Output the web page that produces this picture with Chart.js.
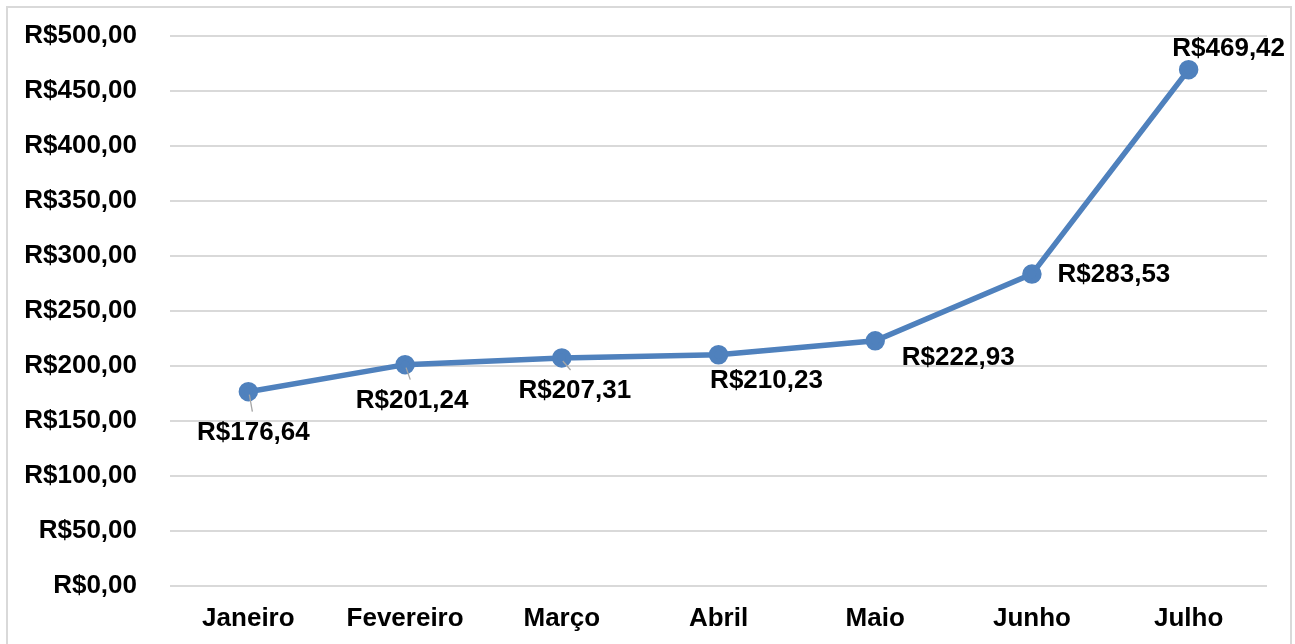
<!DOCTYPE html>
<html>
<head>
<meta charset="utf-8">
<script src="https://cdn.jsdelivr.net/npm/chart.js@4"></script>
<style>
  html, body { margin: 0; padding: 0; background: #fff; overflow: hidden; }
  #frame { position: absolute; left: 6px; top: 6px; width: 1286px; height: 700px; border: 2px solid #d9d9d9; box-sizing: border-box; }
  #wrap { position: absolute; left: 0; top: 0; width: 1295px; height: 644px; }
</style>
</head>
<body>
<div id="frame"></div>
<div id="wrap"><canvas id="gastosChart" width="1295" height="644"></canvas></div>
<script>
// Meses e valores (R$)
const months = ['Janeiro', 'Fevereiro', 'Março', 'Abril', 'Maio', 'Junho', 'Julho'];
const values = [176.64, 201.24, 207.31, 210.23, 222.93, 283.53, 469.42];
const yTicks = [0, 50, 100, 150, 200, 250, 300, 350, 400, 450, 500];

const FONT = '"Liberation Sans", Arial, sans-serif';

function brl(v) {
    return 'R$' + v.toFixed(2).replace('.', ',');
}

// Data labels placed like the Excel original (offset from each point)
const labelOffsets = [[5, 41], [7, 36], [13, 33], [48, 26], [83, 17], [82, 1], [40, -21]];
const leaders = [true, true, true, false, false, false, false];

const dataLabels = {
    id: 'dataLabels',
    afterDatasetsDraw(chart) {
        const ctx = chart.ctx;
        const meta = chart.getDatasetMeta(0);
        ctx.save();
        meta.data.forEach((pt, i) => {
            const [dx, dy] = labelOffsets[i];
            if (leaders[i]) {
                ctx.strokeStyle = '#a6a6a6';
                ctx.lineWidth = 1.3;
                ctx.beginPath();
                ctx.moveTo(pt.x + 1, pt.y + 3);
                ctx.lineTo(pt.x + dx * 0.6 + 1, pt.y + dy - 21);
                ctx.stroke();
            }
            ctx.fillStyle = '#000';
            ctx.font = 'bold 26px ' + FONT;
            ctx.textAlign = 'center';
            ctx.textBaseline = 'middle';
            ctx.fillText(brl(values[i]), pt.x + dx, pt.y + dy);
        });
        ctx.restore();
    }
};

new Chart(document.getElementById('gastosChart'), {
    type: 'line',
    data: {
        labels: months,
        datasets: [{
            data: values,
            borderColor: '#4f81bd',
            backgroundColor: '#4f81bd',
            borderWidth: 5.5,
            pointRadius: 7,
            pointHoverRadius: 7,
            pointBackgroundColor: '#4f81bd',
            pointBorderColor: '#4f81bd',
            tension: 0,
        }],
    },
    options: {
        responsive: false,
        animation: false,
        layout: { padding: { top: 36, right: 28, left: 0, bottom: 0 } },
        plugins: { legend: { display: false }, tooltip: { enabled: false } },
        scales: {
            x: {
                offset: true,
                grid: { display: false, drawTicks: false },
                border: { display: false },
                ticks: { color: '#000', padding: 17, font: { family: FONT, size: 26, weight: 'bold' } },
                afterFit(scale) { scale.height = 58; scale.paddingLeft = 0; scale.paddingRight = 0; },
            },
            y: {
                min: 0,
                max: 500,
                afterBuildTicks(scale) { scale.ticks = yTicks.map(v => ({ value: v })); },
                grid: { color: '#d9d9d9', lineWidth: 2, drawTicks: false },
                border: { display: false },
                ticks: {
                    color: '#000',
                    padding: 33,
                    font: { family: FONT, size: 26, weight: 'bold' },
                    callback: v => brl(v),
                },
                afterFit(scale) { scale.width = 170; scale.paddingTop = 0; scale.paddingBottom = 0; },
            },
        },
    },
    plugins: [dataLabels],
});
</script>
</body>
</html>
